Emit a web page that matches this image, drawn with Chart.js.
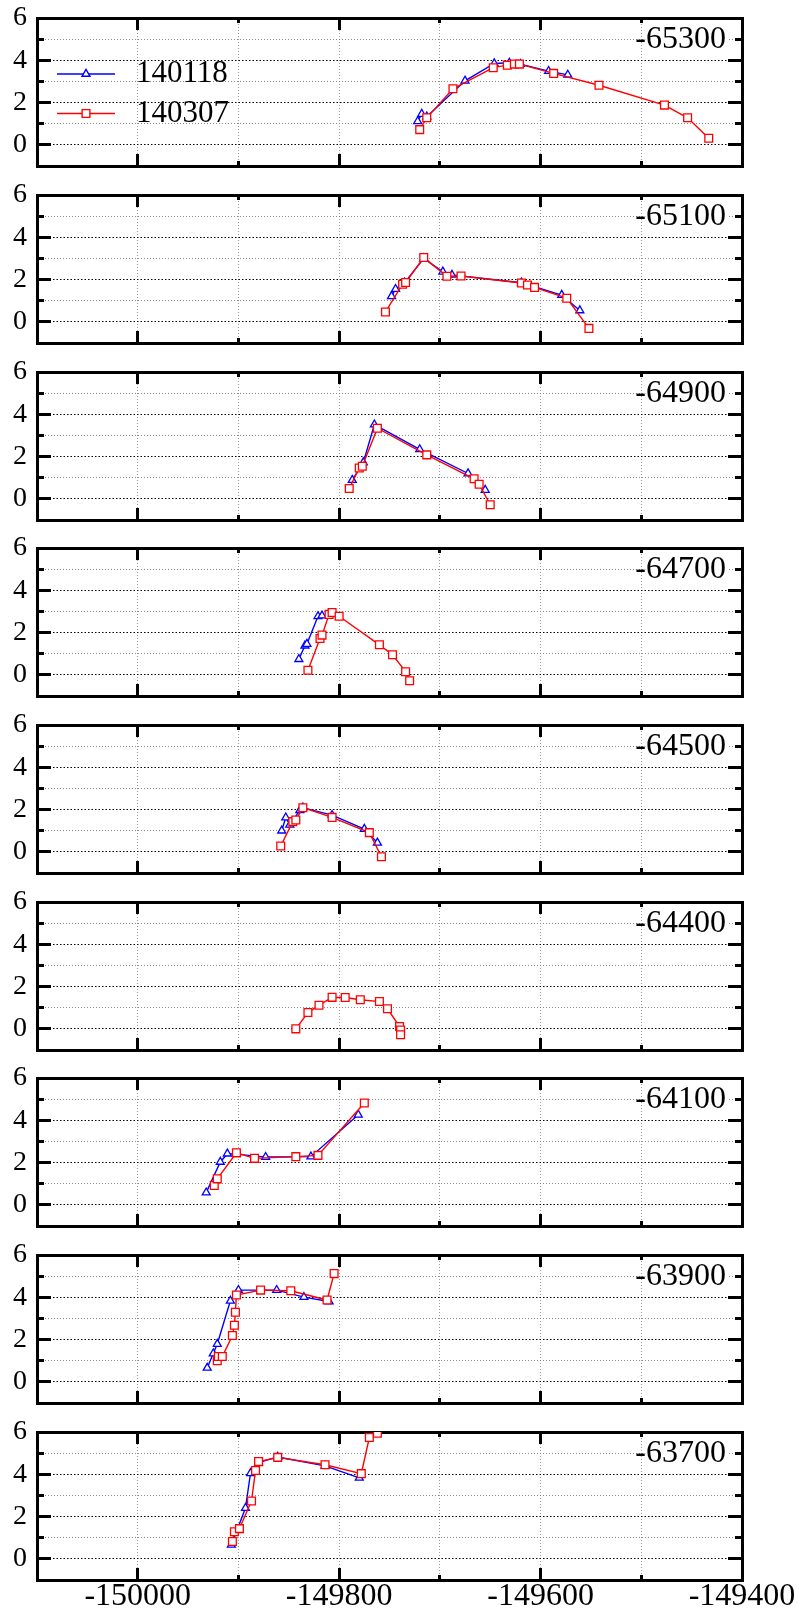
<!DOCTYPE html>
<html>
<head>
<meta charset="utf-8">
<script src="https://cdn.jsdelivr.net/npm/chart.js@4.4.1/dist/chart.umd.min.js"></script>
<style>
  html, body { margin: 0; padding: 0; background: #fff; }
  #page { position: relative; width: 798px; height: 1619px; overflow: hidden; background: #fff; }
  .panel { position: absolute; left: 0; }
</style>
</head>
<body>
<div id="page"></div>
<script>
// ── Data ─────────────────────────────────────────────────────────
const panelNames  = ['-65300', '-65100', '-64900', '-64700', '-64500', '-64400', '-64100', '-63900', '-63700'];
const seriesNames = ['140118', '140307'];

const xMajorTicks = [-150000, -149800, -149600, -149400];
const xMinorTicks = [-149900, -149700, -149500];
const yMajorTicks = [0, 2, 4, 6];
const yMinorTicks = [1, 3, 5];

// 140118 (blue triangles), one list per panel
const blueX = [
  [-149722, -149718, -149713, -149675, -149646, -149631, -149620, -149592, -149573],
  [-149748, -149744, -149735, -149716, -149697, -149688, -149619, -149579, -149561],
  [-149787, -149776, -149765, -149720, -149672, -149655],
  [-149840, -149834, -149832, -149821, -149817],
  [-149857, -149853, -149849, -149839, -149836, -149807, -149775, -149762],
  [],
  [-149932, -149918, -149911, -149902, -149873, -149828, -149781],
  [-149931, -149925, -149921, -149908, -149900, -149862, -149835, -149810],
  [-149907, -149893, -149888, -149880, -149861, -149814, -149780],
];
const blueY = [
  [1.11, 1.46, 1.33, 3.03, 3.85, 3.88, 3.82, 3.49, 3.31],
  [1.21, 1.55, 1.85, 3.00, 2.37, 2.22, 1.85, 1.27, 0.54],
  [0.89, 1.72, 3.51, 2.34, 1.20, 0.42],
  [0.74, 1.38, 1.46, 2.77, 2.80],
  [1.00, 1.62, 1.28, 1.97, 2.09, 1.74, 1.08, 0.43],
  [],
  [0.58, 2.03, 2.42, 2.40, 2.26, 2.28, 4.26],
  [0.66, 1.34, 1.79, 3.83, 4.34, 4.34, 4.01, 3.80],
  [0.66, 2.40, 4.05, 4.55, 4.82, 4.40, 3.83],
];

// 140307 (red squares)
const redX = [
  [-149720, -149713, -149687, -149647, -149633, -149626, -149621, -149587, -149542, -149477, -149454, -149433],
  [-149754, -149737, -149734, -149716, -149693, -149679, -149619, -149613, -149606, -149574, -149552],
  [-149790, -149780, -149777, -149762, -149713, -149666, -149661, -149650],
  [-149831, -149819, -149817, -149810, -149807, -149800, -149760, -149747, -149734, -149730],
  [-149858, -149846, -149843, -149836, -149807, -149770, -149758],
  [-149843, -149831, -149820, -149807, -149794, -149779, -149760, -149752, -149740, -149739, -149739],
  [-149924, -149921, -149902, -149884, -149843, -149821, -149775],
  [-149921, -149920, -149916, -149906, -149904, -149903, -149902, -149878, -149848, -149812, -149805],
  [-149906, -149904, -149899, -149887, -149883, -149880, -149861, -149814, -149778, -149770, -149762],
];
const redY = [
  [0.72, 1.28, 2.65, 3.65, 3.77, 3.82, 3.82, 3.38, 2.82, 1.88, 1.28, 0.31],
  [0.47, 1.78, 1.86, 3.04, 2.16, 2.17, 1.84, 1.74, 1.63, 1.12, -0.31],
  [0.49, 1.46, 1.54, 3.34, 2.08, 0.95, 0.69, -0.28],
  [0.22, 1.72, 1.88, 2.86, 2.95, 2.77, 1.42, 0.95, 0.15, -0.28],
  [0.28, 1.43, 1.51, 2.09, 1.63, 0.91, -0.23],
  [0.00, 0.77, 1.12, 1.49, 1.48, 1.38, 1.29, 0.95, 0.11, -0.05, -0.28],
  [0.92, 1.23, 2.46, 2.20, 2.28, 2.34, 4.82],
  [1.00, 1.20, 1.20, 2.19, 2.68, 3.29, 4.11, 4.34, 4.31, 3.87, 5.12],
  [0.82, 1.28, 1.43, 2.74, 4.18, 4.60, 4.80, 4.45, 4.03, 5.74, 5.94],
];

// ── Layout ───────────────────────────────────────────────────────
const X_MIN = -150100, X_MAX = -149400;
const Y_MIN = -1, Y_MAX = 6;
const W = 798;
const PLOT_LEFT = 37, PLOT_RIGHT = 742;
const PLOT_H = 148;
const FIRST_TOP = 18.3, STEP = 176.7;
const PAD_TOP = 16, PAD_BOTTOM = 12;
const X_LABEL_H = 40;   // room for the x tick labels under the last panel
const FONT = '"Liberation Serif", "Times New Roman", serif';

// ── Axis builder: ticks drawn inward, box drawn by borders ────────
function makeAxis(position, ticks, o) {
  const horiz = position === 'top' || position === 'bottom';
  return {
    type: 'linear',
    axis: horiz ? 'x' : 'y',
    position: position,
    min: horiz ? X_MIN : Y_MIN,
    max: horiz ? X_MAX : Y_MAX,
    weight: o.weight || 0,
    afterBuildTicks: a => { a.ticks = ticks.map(v => ({ value: v })); },
    afterFit: a => {
      if (horiz) a.height = o.size || 0; else a.width = o.size || 0;
      // labels may overflow the box, keep the plot area fixed
      a.paddingLeft = a.paddingRight = a.paddingTop = a.paddingBottom = 0;
    },
    grid: {
      display: true,
      drawOnChartArea: !!o.gridColor,
      color: o.gridColor || 'rgba(0,0,0,0)',
      lineWidth: 1,
      drawTicks: true,
      tickLength: -o.tick,
      tickWidth: 3,
      tickColor: '#000',
    },
    border: { display: true, color: '#000', width: 3, dash: o.dash || [] },
    ticks: o.labels ? {
      display: true,
      autoSkip: false,
      maxRotation: 0,
      padding: o.padding,
      color: '#000',
      font: { family: FONT, size: o.fontSize },
      callback: v => String(v),
    } : { display: false },
  };
}

// ── Panel label + legend plugin ──────────────────────────────────
function drawMarker(ctx, style, r, x, y) {
  if (Chart.helpers && Chart.helpers.drawPoint) {
    Chart.helpers.drawPoint(ctx, { pointStyle: style, radius: r, rotation: 0, borderWidth: ctx.lineWidth }, x, y);
    return;
  }
  ctx.beginPath();
  if (style === 'triangle') {
    ctx.moveTo(x, y - r);
    ctx.lineTo(x + r * 0.866, y + r / 2);
    ctx.lineTo(x - r * 0.866, y + r / 2);
    ctx.closePath();
  } else {
    const s = r * Math.SQRT1_2;
    ctx.rect(x - s, y - s, 2 * s, 2 * s);
  }
  ctx.fill();
  ctx.stroke();
}

const panelDecor = {
  id: 'panelDecor',
  beforeDatasetsDraw(chart, args, opts) {
    const { ctx, chartArea: a } = chart;
    ctx.save();
    ctx.font = '32px ' + FONT;
    ctx.textAlign = 'right';
    ctx.textBaseline = 'middle';
    const tx = a.right - 16, ty = a.top + 22;
    const w = ctx.measureText(opts.label).width;
    ctx.fillStyle = '#fff';
    ctx.fillRect(tx - w + 10, ty - 12, w - 8, 24);
    ctx.fillStyle = '#000';
    ctx.fillText(opts.label, tx, ty);
    ctx.restore();
  },
  afterDraw(chart, args, opts) {
    if (!opts.legend) return;
    const { ctx, chartArea: a } = chart;
    ctx.save();
    chart.data.datasets.forEach((ds, k) => {
      const y = a.top + 56 + k * 39.5;
      ctx.strokeStyle = ds.borderColor;
      ctx.lineWidth = 1.6;
      ctx.beginPath();
      ctx.moveTo(a.left + 20, y);
      ctx.lineTo(a.left + 78, y);
      ctx.stroke();
      ctx.fillStyle = '#fff';
      ctx.lineWidth = 1.4;
      drawMarker(ctx, ds.pointStyle, ds.pointRadius, a.left + 49, y);
      ctx.fillStyle = '#000';
      ctx.font = '31px ' + FONT;
      ctx.textAlign = 'left';
      ctx.textBaseline = 'middle';
      ctx.fillText(ds.label, a.left + 99, y);
    });
    ctx.restore();
  },
};

// ── Build the nine panels ────────────────────────────────────────
const page = document.getElementById('page');

function toPoints(xs, ys) {
  return xs.map((x, j) => ({ x: x, y: ys[j] }));
}

panelNames.forEach((name, i) => {
  const last = i === panelNames.length - 1;
  const top  = Math.round(FIRST_TOP + i * STEP);
  const padB = last ? 2 : PAD_BOTTOM;
  const h    = PAD_TOP + PLOT_H + padB + (last ? X_LABEL_H : 0);

  const div = document.createElement('div');
  div.className = 'panel';
  div.style.top = (top - PAD_TOP) + 'px';
  div.style.width = W + 'px';
  div.style.height = h + 'px';
  const canvas = document.createElement('canvas');
  canvas.width = W;
  canvas.height = h;
  canvas.style.width = W + 'px';
  canvas.style.height = h + 'px';
  div.appendChild(canvas);
  page.appendChild(div);

  new Chart(canvas, {
    type: 'scatter',
    data: {
      datasets: [
        {
          label: seriesNames[0],
          data: toPoints(blueX[i], blueY[i]),
          xAxisID: 'x', yAxisID: 'y',
          showLine: true,
          borderColor: '#0000ff',
          backgroundColor: '#ffffff',
          borderWidth: 1.4,
          pointStyle: 'triangle',
          pointRadius: 4.6,
          pointBorderWidth: 1.3,
          pointBackgroundColor: '#ffffff',
          tension: 0,
          order: 2,
        },
        {
          label: seriesNames[1],
          data: toPoints(redX[i], redY[i]),
          xAxisID: 'x', yAxisID: 'y',
          showLine: true,
          borderColor: '#ff0000',
          backgroundColor: '#ffffff',
          borderWidth: 1.4,
          pointStyle: 'rect',
          pointRadius: 5.5,
          pointBorderWidth: 1.3,
          pointBackgroundColor: '#ffffff',
          tension: 0,
          order: 1,
        },
      ],
    },
    options: {
      responsive: false,
      animation: false,
      devicePixelRatio: 1,
      layout: { padding: { left: 0, right: W - PLOT_RIGHT, top: PAD_TOP, bottom: padB } },
      scales: {
        // labelled bottom axis gets the larger weight so the minor one sits on the border
        x:   makeAxis('bottom', xMajorTicks, { tick: 12, gridColor: '#9a9a9a', dash: [1, 2],
                labels: last, padding: 9, fontSize: 32, size: last ? X_LABEL_H : 0, weight: 1 }),
        xm:  makeAxis('bottom', xMinorTicks, { tick: 5, gridColor: '#9a9a9a', dash: [1, 2] }),
        xt:  makeAxis('top', xMajorTicks, { tick: 12 }),
        xtm: makeAxis('top', xMinorTicks, { tick: 5 }),
        y:   makeAxis('left', yMajorTicks, { tick: 14, gridColor: '#000', dash: [1.5, 2],
                labels: true, padding: 24, fontSize: 28, size: PLOT_LEFT, weight: 1 }),
        ym:  makeAxis('left', yMinorTicks, { tick: 7, gridColor: '#8a8a8a', dash: [1, 2] }),
        yr:  makeAxis('right', yMajorTicks, { tick: 14 }),
        yrm: makeAxis('right', yMinorTicks, { tick: 7 }),
      },
      plugins: {
        legend: { display: false },
        tooltip: { enabled: false },
        panelDecor: { label: name, legend: i === 0 },
      },
    },
    plugins: [panelDecor],
  });
});
</script>
</body>
</html>
